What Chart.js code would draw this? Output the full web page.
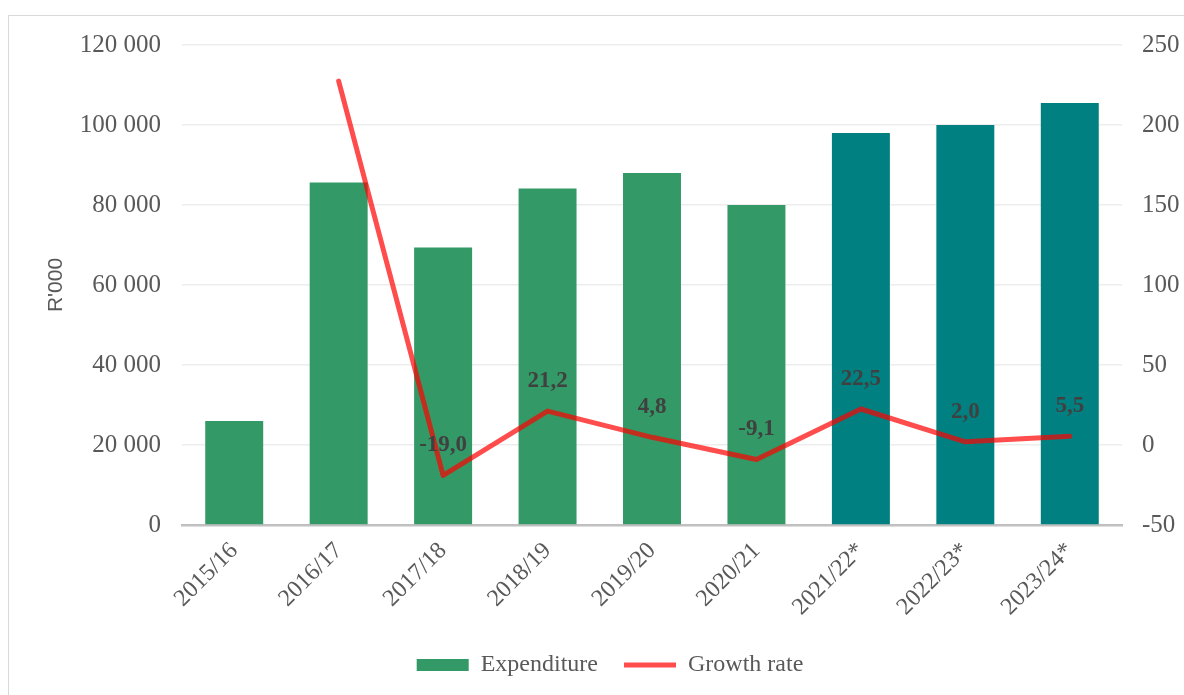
<!DOCTYPE html>
<html>
<head>
<meta charset="utf-8">
<script src="https://cdn.jsdelivr.net/npm/chart.js@4.4.1/dist/chart.umd.min.js"></script>
<style>
  html, body { margin: 0; padding: 0; background: #fff; overflow: hidden; }
  #frame { position: absolute; left: 8px; top: 15px; width: 1250px; height: 750px; border: 1.5px solid #d9d9d9; }
  #wrap { position: absolute; left: 0; top: 0; width: 1184px; height: 695px; }
</style>
</head>
<body>
<div id="frame"></div>
<div id="wrap"><canvas id="chart"></canvas></div>
<script>
const years = ["2015/16", "2016/17", "2017/18", "2018/19", "2019/20", "2020/21", "2021/22*", "2022/23*", "2023/24*"];
const expenditure = [26000, 85600, 69400, 84100, 88000, 80000, 98000, 100000, 105500];
const growthRate = [null, 227.4, -19.0, 21.2, 4.8, -9.1, 22.5, 2.0, 5.5];
const growthLabels = [null, null, "-19,0", "21,2", "4,8", "-9,1", "22,5", "2,0", "5,5"];
const leftTicks = [0, 20000, 40000, 60000, 80000, 100000, 120000];
const rightTicks = [-50, 0, 50, 100, 150, 200, 250];

const serif = "'Liberation Serif', 'Times New Roman', serif";
const grey = "#595959";

// labels over the growth line
const lineLabels = {
  id: "lineLabels",
  afterDatasetsDraw(chart) {
    const meta = chart.getDatasetMeta(1);
    const ctx = chart.ctx;
    ctx.save();
    ctx.font = "bold 23px " + serif;
    ctx.fillStyle = "#404040";
    ctx.textAlign = "center";
    ctx.textBaseline = "middle";
    meta.data.forEach((pt, i) => {
      if (!growthLabels[i]) return;
      ctx.fillText(growthLabels[i], pt.x, pt.y - 30);
    });
    ctx.restore();
  }
};

new Chart(document.getElementById("chart"), {
  type: "bar",
  data: {
    labels: years,
    datasets: [
      {
        type: "bar",
        label: "Expenditure",
        data: expenditure,
        yAxisID: "y",
        backgroundColor: years.map(y => y.endsWith("*") ? "#008080" : "#339966"),
        borderWidth: 0,
        categoryPercentage: 1,
        barPercentage: 0.555,
        order: 2
      },
      {
        type: "line",
        label: "Growth rate",
        data: growthRate,
        yAxisID: "y1",
        borderColor: "rgba(255, 0, 0, 0.7)",
        backgroundColor: "rgba(255, 0, 0, 0.7)",
        borderWidth: 5,
        borderCapStyle: "round",
        borderJoinStyle: "round",
        pointRadius: 0,
        tension: 0,
        order: 1
      }
    ]
  },
  options: {
    responsive: true,
    maintainAspectRatio: false,
    animation: false,
    layout: { padding: { top: 45, left: 36, right: 0, bottom: 8 } },
    scales: {
      x: {
        grid: { display: false },
        border: { color: "#c0c0c0", width: 2.5 },
        ticks: {
          color: grey,
          font: { family: serif, size: 24 },
          minRotation: 45,
          maxRotation: 45,
          padding: 4
        },
        afterFit(scale) { scale.height = 102; }
      },
      y: {
        position: "left",
        min: 0,
        max: 120000,
        afterBuildTicks(scale) { scale.ticks = leftTicks.map(v => ({ value: v })); },
        grid: { color: "#ededed", lineWidth: 1.5, drawTicks: false },
        border: { display: false },
        ticks: {
          color: grey,
          font: { family: serif, size: 25 },
          padding: 21,
          callback: v => String(v).replace(/\B(?=(\d{3})+(?!\d))/g, " ")
        },
        title: {
          display: true,
          text: "R'000",
          color: grey,
          font: { family: "'Liberation Sans', Arial, sans-serif", size: 21 },
          padding: { top: 8, bottom: 0 }
        },
        afterFit(scale) { scale.width = 146; }
      },
      y1: {
        position: "right",
        min: -50,
        max: 250,
        afterBuildTicks(scale) { scale.ticks = rightTicks.map(v => ({ value: v })); },
        grid: { display: false, drawTicks: false },
        border: { display: false },
        ticks: {
          color: grey,
          font: { family: serif, size: 25 },
          padding: 20
        },
        afterFit(scale) { scale.width = 62; }
      }
    },
    plugins: {
      tooltip: { enabled: false },
      legend: {
        position: "bottom",
        labels: {
          color: grey,
          font: { family: serif, size: 24 },
          usePointStyle: true,
          pointStyleWidth: 52,
          boxHeight: 12,
          padding: 26,
          sort: (a, b) => a.datasetIndex - b.datasetIndex,
          generateLabels(chart) {
            const items = Chart.defaults.plugins.legend.labels.generateLabels(chart);
            items.forEach(it => {
              if (it.datasetIndex === 0) {
                it.pointStyle = "rect";
                it.fillStyle = "#339966";
                it.strokeStyle = "#339966";
                it.lineWidth = 0;
              } else {
                it.pointStyle = "line";
                it.strokeStyle = "rgba(255, 0, 0, 0.7)";
                it.lineWidth = 5;
              }
            });
            return items;
          }
        }
      }
    }
  },
  plugins: [lineLabels]
});
</script>
</body>
</html>
